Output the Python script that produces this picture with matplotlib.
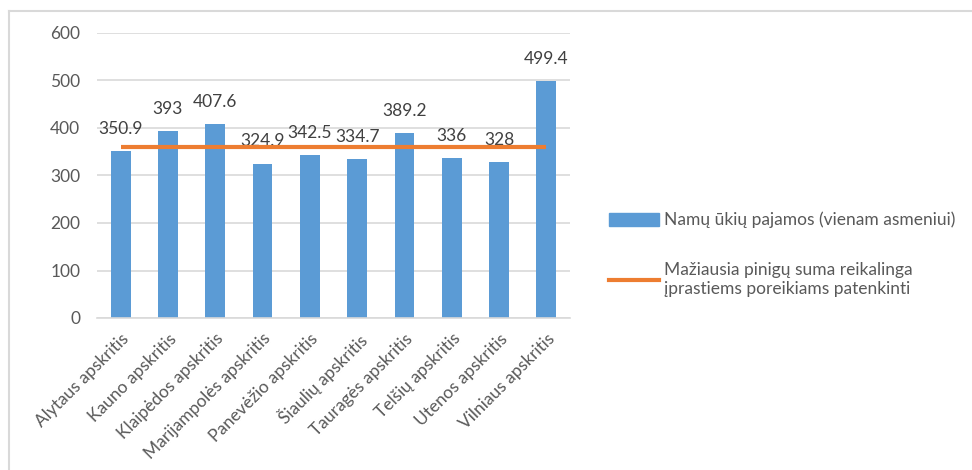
import matplotlib.pyplot as plt
from matplotlib.lines import Line2D
from matplotlib.patches import Patch

plt.rcParams['font.family'] = ['Lato', 'DejaVu Sans']

# data
regions = ['Alytaus apskritis', 'Kauno apskritis', 'Klaipėdos apskritis',
           'Marijampolės apskritis', 'Panevėžio apskritis', 'Šiaulių apskritis',
           'Tauragės apskritis', 'Telšių apskritis', 'Utenos apskritis',
           'Vilniaus apskritis']
income = [350.9, 393, 407.6, 324.9, 342.5, 334.7, 389.2, 336, 328, 499.4]
min_sum = [361] * len(regions)

bar_label = 'Namų ūkių pajamos (vienam asmeniui)'
line_label = 'Mažiausia pinigų suma reikalinga\nįprastiems poreikiams patenkinti'

blue = '#5B9BD5'
orange = '#ED7D31'
grid_c = '#D9D9D9'
txt_c = '#595959'
fs = 12.5

fig = plt.figure(figsize=(9.72, 4.70), dpi=100)
ax = fig.add_axes([97 / 972, 1 - 318 / 470, 473 / 972, 285 / 470])

x = range(len(regions))
bars = ax.bar(x, income, width=0.42, color=blue, zorder=2)
ax.plot(x, min_sum, color=orange, lw=3, zorder=4, solid_capstyle='butt')

for xi, v in zip(x, income):
    ax.annotate(f'{v:g}', (xi, v), xytext=(0, 16), textcoords='offset points',
                ha='center', va='center', fontsize=fs, color='#404040', zorder=3)

ax.set_xlim(-0.5, len(regions) - 0.5)
ax.set_ylim(0, 600)
ax.set_yticks(range(0, 601, 100))
ax.yaxis.grid(True, color=grid_c, lw=1.2, zorder=0)
ax.set_axisbelow(True)
for s in ['top', 'right', 'left']:
    ax.spines[s].set_visible(False)
ax.spines['bottom'].set_color(grid_c)
ax.spines['bottom'].set_linewidth(1.2)
ax.tick_params(axis='both', length=0, colors=txt_c, labelsize=fs)
ax.tick_params(axis='y', pad=12)
ax.set_xticks(list(x))
ax.set_xticklabels(regions, rotation=45, ha='right', rotation_mode='anchor')
ax.tick_params(axis='x', pad=9)

handles = [Patch(color=blue), Line2D([], [], color=orange, lw=3)]
leg = fig.legend(handles, [bar_label, line_label], loc='upper left',
                 bbox_to_anchor=(593 / 972, 1 - 196 / 470), frameon=False,
                 fontsize=fs, handlelength=2.9, handleheight=0.8,
                 handletextpad=0.3, labelspacing=1.95, labelcolor=txt_c)

# chart frame (top and left edges visible)
fig.add_artist(Line2D([9 / 972, 971 / 972], [1 - 11 / 470, 1 - 11 / 470],
                      color=grid_c, lw=1.5))
fig.add_artist(Line2D([9 / 972, 9 / 972], [0, 1 - 11 / 470],
                      color=grid_c, lw=1.5))

fig.savefig('out.png', dpi=100)
